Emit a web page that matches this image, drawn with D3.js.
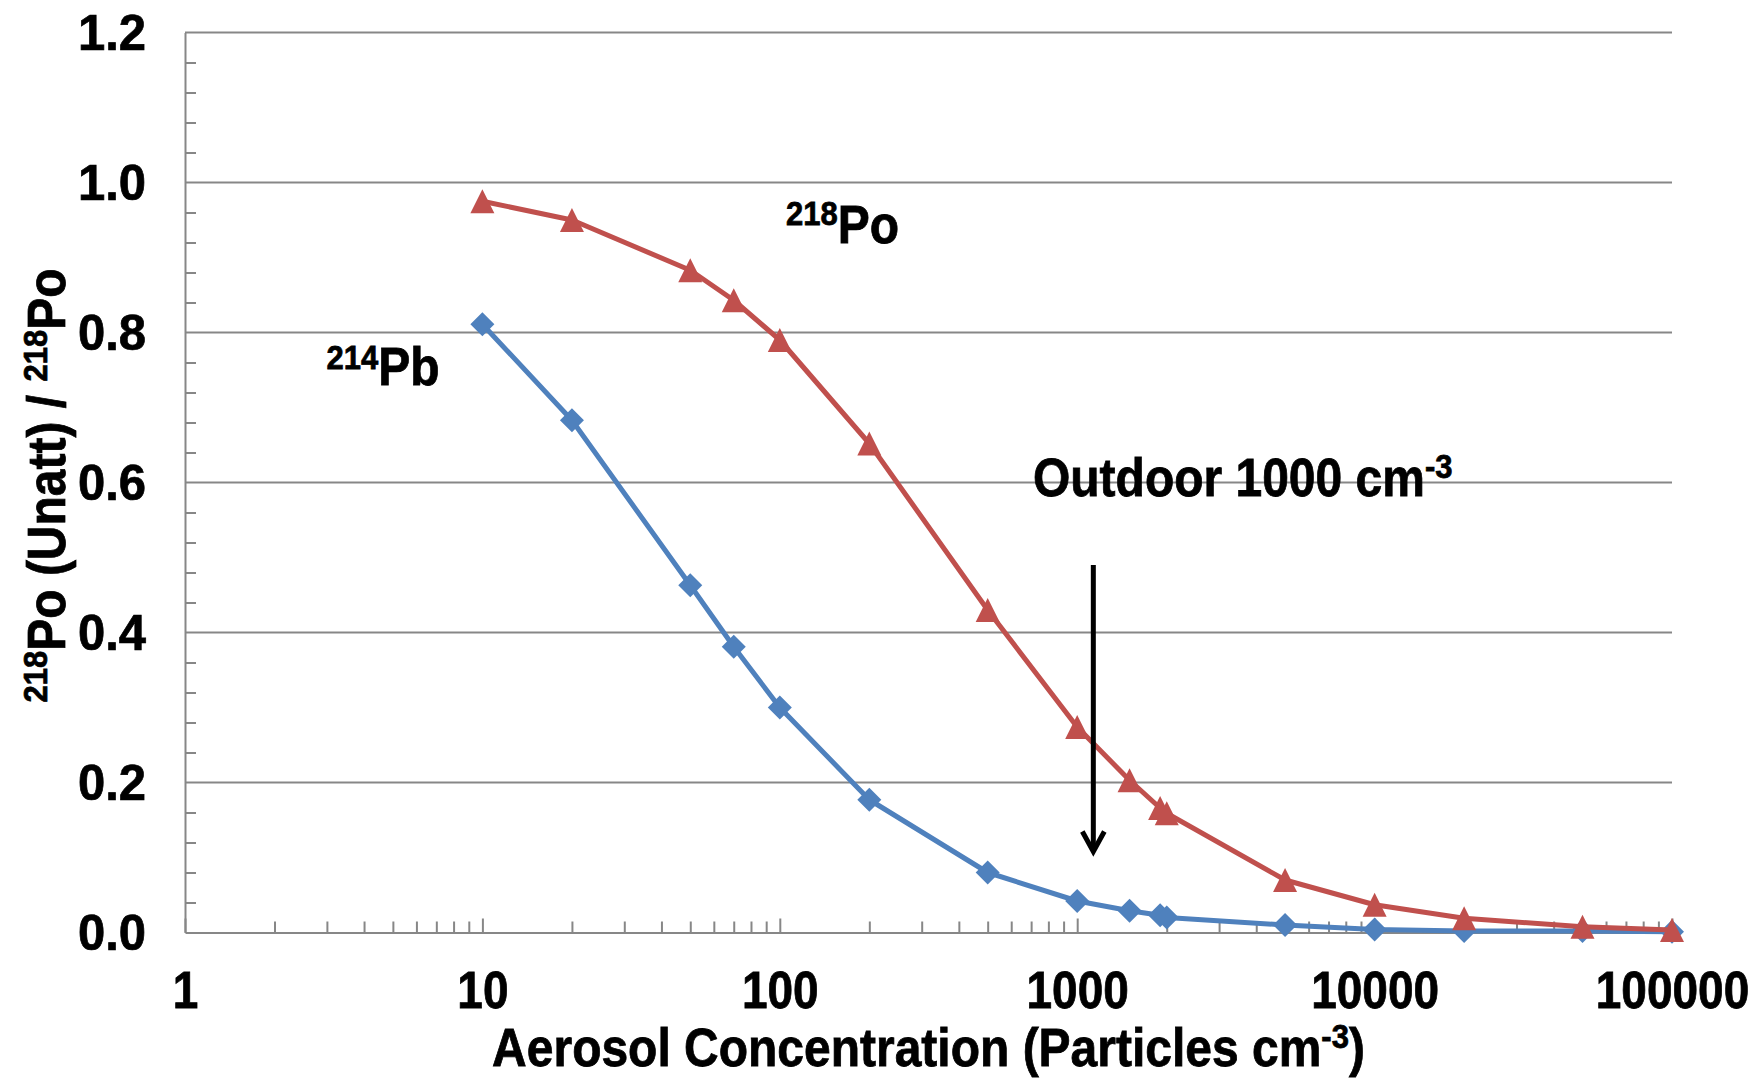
<!DOCTYPE html>
<html>
<head>
<meta charset="utf-8">
<script src="https://cdn.jsdelivr.net/npm/d3@7"></script>
<style>
  html, body { margin: 0; padding: 0; background: #ffffff; }
  svg { display: block; }
  text { font-family: "Liberation Sans", Arial, Helvetica, sans-serif; font-weight: bold; fill: #000; stroke: #000; stroke-width: 0.7px; }
</style>
</head>
<body>
<svg id="chart" width="1755" height="1079"></svg>
<script>
// Aerosol concentration (particles per cm^3)
const concentration = [10, 20, 50, 70, 100, 200, 500, 1000, 1500, 1900, 2000, 5000, 10000, 20000, 50000, 100000];
// Unattached fraction relative to 218Po
const po218 = [0.975, 0.950, 0.883, 0.843, 0.790, 0.652, 0.430, 0.274, 0.203, 0.166, 0.159, 0.070, 0.037, 0.019, 0.0077, 0.0033];
const pb214 = [0.811, 0.683, 0.463, 0.381, 0.300, 0.177, 0.080, 0.042, 0.029, 0.023, 0.020, 0.010, 0.004, 0.002, 0.002, 0.001];

const xTicks = [1, 10, 100, 1000, 10000, 100000];
const yTicks = [0, 0.2, 0.4, 0.6, 0.8, 1.0, 1.2];

// Outdoor reference arrow: concentration and start/end heights
const outdoorConc = 1133;
const arrowFrom = 0.49;
const arrowTo = 0.108;

const W = 1755, H = 1079;
const margin = { left: 185, right: 83, top: 32.5, bottom: 146.5 };
const x0 = margin.left, x1 = W - margin.right;
const y0 = H - margin.bottom, y1 = margin.top;
const stretch = 1.1;   // glyphs are drawn slightly taller than wide
const FONT = '"Liberation Sans", Arial, sans-serif';

const svg = d3.select("#chart");
svg.append("rect").attr("width", W).attr("height", H).attr("fill", "#fff");

const x = d3.scaleLog().domain([1, 100000]).range([x0, x1]);
const y = d3.scaleLinear().domain([0, 1.2]).range([y0, y1]);

const gridColor = "#878787";

// horizontal gridlines
svg.append("g").selectAll("line")
  .data(yTicks.filter(v => v > 0))
  .join("line")
  .attr("x1", x0).attr("x2", x1)
  .attr("y1", d => y(d)).attr("y2", d => y(d))
  .attr("stroke", gridColor).attr("stroke-width", 2);

// y minor ticks (inside)
const yMinor = d3.range(0, 61, 2).map(i => i / 50).filter(v => Math.round(v * 50) % 10 !== 0 && v < 1.2);
const yMinorAxis = svg.append("g").attr("transform", `translate(${x0},0)`)
  .call(d3.axisLeft(y).tickValues(yMinor).tickSizeInner(-11).tickSizeOuter(0).tickFormat(""));
yMinorAxis.selectAll("line").attr("stroke", gridColor).attr("stroke-width", 2);
yMinorAxis.select(".domain").attr("stroke", gridColor).attr("stroke-width", 2);

// y major labels
const yAxis = svg.append("g").attr("transform", `translate(${x0},0)`)
  .call(d3.axisLeft(y).tickValues(yTicks).tickSize(0).tickPadding(39).tickFormat(d3.format(".1f")));
yAxis.select(".domain").remove();
yAxis.selectAll("text")
  .attr("font-size", 49).attr("x", 0).attr("y", 0).attr("dy", 0)
  .attr("transform", `translate(-39,16.5) scale(1,1.02)`)
  .style("font-family", FONT).style("font-weight", "bold").attr("fill", "#000");

// x minor ticks (inside)
const xMinor = [];
for (let dec = 1; dec < 100000; dec *= 10) for (let k = 2; k <= 9; k++) xMinor.push(dec * k);
const xMinorAxis = svg.append("g").attr("transform", `translate(0,${y0})`)
  .call(d3.axisBottom(x).tickValues(xMinor).tickSizeInner(-11).tickSizeOuter(0).tickFormat(""));
xMinorAxis.selectAll("line").attr("stroke", gridColor).attr("stroke-width", 2);
xMinorAxis.select(".domain").remove();

// x major ticks and labels
const xAxis = svg.append("g").attr("transform", `translate(0,${y0})`)
  .call(d3.axisBottom(x).tickValues(xTicks).tickSizeInner(-14).tickSizeOuter(0).tickPadding(0).tickFormat(d3.format("d")));
xAxis.selectAll("line").attr("stroke", gridColor).attr("stroke-width", 2);
xAxis.select(".domain").attr("stroke", gridColor).attr("stroke-width", 2);
xAxis.selectAll("text")
  .attr("font-size", 46).attr("y", 0).attr("dy", 0)
  .attr("transform", `translate(0,75) scale(1,1.12)`)
  .style("font-family", FONT).style("font-weight", "bold").attr("fill", "#000");

// series
const series = [
  { name: "214Pb", values: pb214, color: "#4F81BD", marker: "diamond" },
  { name: "218Po", values: po218, color: "#C0504D", marker: "triangle" }
];
const line = d3.line().x(d => x(d[0])).y(d => y(d[1]));
const markerPath = {
  diamond: "M0,-12L12,0L0,12L-12,0Z",
  triangle: "M0,-12L12,12L-12,12Z"
};

series.forEach(s => {
  const pts = concentration.map((c, i) => [c, s.values[i]]);
  const g = svg.append("g");
  g.append("path").datum(pts)
    .attr("d", line).attr("fill", "none")
    .attr("stroke", s.color).attr("stroke-width", 5).attr("stroke-linejoin", "round");
  g.selectAll("path.m").data(pts).join("path").attr("class", "m")
    .attr("d", markerPath[s.marker])
    .attr("transform", d => `translate(${x(d[0])},${y(d[1])})`)
    .attr("fill", s.color);
});

// outdoor arrow
const ax = x(outdoorConc), ay0 = y(arrowFrom), ay1 = y(arrowTo);
svg.append("line").attr("x1", ax).attr("x2", ax).attr("y1", ay0).attr("y2", ay1 - 2)
  .attr("stroke", "#000").attr("stroke-width", 5);
svg.append("path")
  .attr("d", `M${ax - 11},${ay1 - 20}L${ax},${ay1}L${ax + 11},${ay1 - 20}`)
  .attr("fill", "none").attr("stroke", "#000").attr("stroke-width", 5);

// text with superscripts: parts = [[text, isSup], ...]
function richText(transform, parts, size, supSize, raise, anchor) {
  const sel = svg.append("text").attr("transform", transform)
    .attr("text-anchor", anchor || "start");
  let up = false;
  parts.forEach(([t, sup]) => {
    const ts = sel.append("tspan").text(t).attr("font-size", sup ? supSize : size);
    if (sup && !up) { ts.attr("dy", -raise); up = true; }
    else if (!sup && up) { ts.attr("dy", raise); up = false; }
  });
  return sel;
}
const at = (px, py, extra) => `translate(${px},${py})${extra || ""} scale(1,${stretch})`;

// series labels
richText(at(x(105), y(0.92)), [["218", true], ["Po", false]], 48, 31, 16);
richText(at(x(2.99), y(0.730)), [["214", true], ["Pb", false]], 48, 31, 15);
richText(at(x(710), y(0.582)), [["Outdoor 1000 cm", false], ["-3", true]], 48, 31, 16);

// axis titles
richText(at((x0 + x1) / 2, 1066),
  [["Aerosol Concentration (Particles cm", false], ["-3", true], [")", false]], 48, 31, 16, "middle");
richText(at(65, (y0 + y1) / 2 + 3, " rotate(-90)"),
  [["218", true], ["Po (Unatt) / ", false], ["218", true], ["Po", false]], 48, 31, 16, "middle");
</script>
</body>
</html>
